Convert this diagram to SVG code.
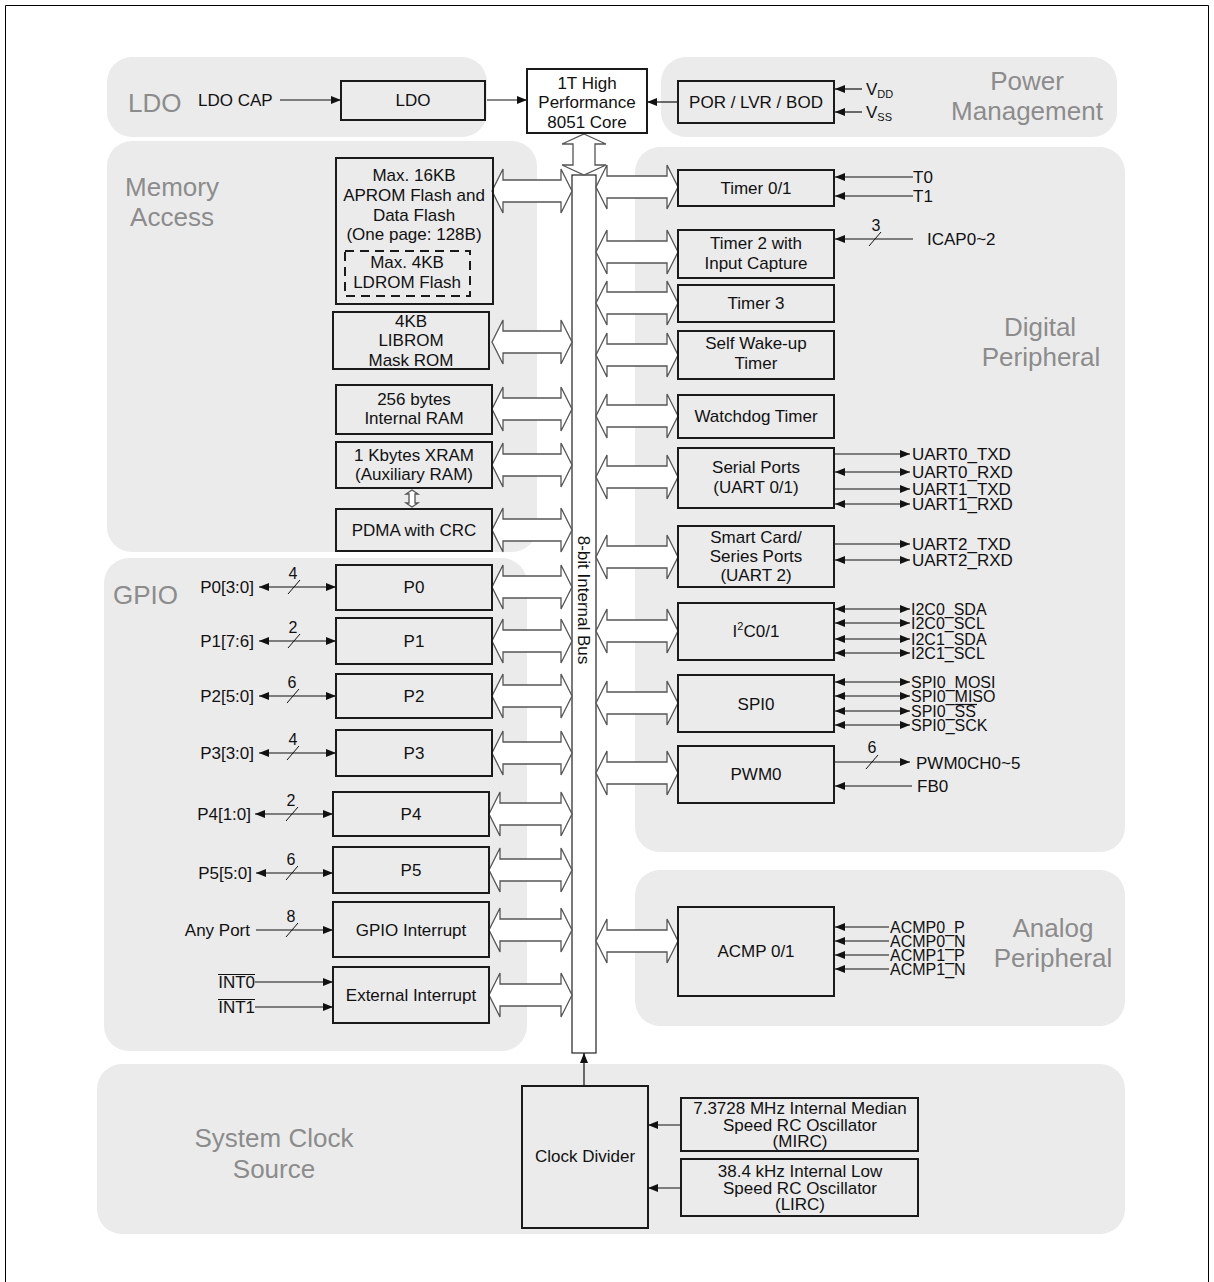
<svg xmlns="http://www.w3.org/2000/svg" xmlns:xlink="http://www.w3.org/1999/xlink" width="1214" height="1282" viewBox="0 0 1214 1282">
<style>
.panel{fill:#ebebeb}
.gl{font-family:"Liberation Sans",Arial,sans-serif;font-size:26px;fill:#8c8c8c}
.box{fill:none;stroke:#1a1a1a;stroke-width:2}
.t{font-family:"Liberation Sans",Arial,sans-serif;font-size:17px;fill:#111;text-anchor:middle}
.s{font-family:"Liberation Sans",Arial,sans-serif;font-size:17px;fill:#111}
.sd{font-family:"Liberation Sans",Arial,sans-serif;font-size:16px;fill:#111}
.e{font-family:"Liberation Sans",Arial,sans-serif;font-size:17px;fill:#111;text-anchor:end}
.n{font-family:"Liberation Sans",Arial,sans-serif;font-size:16px;fill:#111;text-anchor:middle}
.c{font-family:"Liberation Sans",Arial,sans-serif;font-size:17px;fill:#111;text-anchor:middle}
.ba{fill:#fff;stroke:#555;stroke-width:1.3}
.sig{stroke:#111;stroke-width:1.2;fill:none}
.r{marker-end:url(#ah)}
.d{marker-start:url(#ah);marker-end:url(#ah)}
.sl{stroke:#111;stroke-width:1}
</style>
<defs>
<marker id="ah" markerUnits="userSpaceOnUse" markerWidth="10" markerHeight="8" refX="10" refY="4" orient="auto-start-reverse"><path d="M0,0 L10,4 L0,8 Z" fill="#111"/></marker>
<path id="aL" d="M492,0 L503,-22 L503,-11 L561,-11 L561,-22 L572,0 L561,22 L561,11 L503,11 L503,22 Z"/>
<path id="aL2" d="M489,0 L500,-22 L500,-11 L561,-11 L561,-22 L572,0 L561,22 L561,11 L500,11 L500,22 Z"/>
<path id="aR" d="M596,0 L607,-22 L607,-11 L667,-11 L667,-22 L678,0 L667,22 L667,11 L607,11 L607,22 Z"/>
</defs>
<rect width="1214" height="1282" fill="#fff"/>
<path d="M5.5,1282 V5.5 H1208.5 V1282" fill="none" stroke="#000" stroke-width="1"/>

<g id="panels">
<rect class="panel" x="107" y="57" width="380" height="80" rx="25"/>
<rect class="panel" x="661" y="57" width="456" height="80" rx="25"/>
<rect class="panel" x="107" y="141" width="430" height="411" rx="25"/>
<rect class="panel" x="635" y="147" width="490" height="705" rx="25"/>
<rect class="panel" x="104" y="558" width="423" height="493" rx="25"/>
<rect class="panel" x="635" y="870" width="490" height="156" rx="25"/>
<rect class="panel" x="97" y="1064" width="1028" height="170" rx="25"/>
<text class="gl" x="128" y="112">LDO</text>
<text class="gl" x="1027" y="90" text-anchor="middle">Power</text>
<text class="gl" x="1027" y="120" text-anchor="middle">Management</text>
<text class="gl" x="172" y="196" text-anchor="middle">Memory</text>
<text class="gl" x="172" y="226" text-anchor="middle">Access</text>
<text class="gl" x="113" y="604">GPIO</text>
<text class="gl" x="1040" y="336" text-anchor="middle">Digital</text>
<text class="gl" x="1041" y="366" text-anchor="middle">Peripheral</text>
<text class="gl" x="1053" y="937" text-anchor="middle">Analog</text>
<text class="gl" x="1053" y="967" text-anchor="middle">Peripheral</text>
<text class="gl" x="274" y="1147" text-anchor="middle">System Clock</text>
<text class="gl" x="274" y="1178" text-anchor="middle">Source</text>
</g>

<g id="bus">
<rect x="572" y="175" width="24" height="878" fill="#fff" stroke="#333" stroke-width="1.3"/>
<text class="t" transform="translate(584,600) rotate(90)" x="0" y="6">8-bit Internal Bus</text>
</g>

<g id="connectors">
<path class="ba" d="M584,134 L606,144 L595,144 L595,165 L606,165 L584,175 L562,165 L573,165 L573,144 L562,144 Z"/>
<path class="ba" d="M412,490 L418,494 L415,494 L415,503 L418,503 L412,507 L406,503 L409,503 L409,494 L406,494 Z"/>
<use href="#aL" class="ba" y="191"/>
<use href="#aL" class="ba" y="342"/>
<use href="#aL" class="ba" y="409"/>
<use href="#aL" class="ba" y="465"/>
<use href="#aL" class="ba" y="530"/>
<use href="#aL" class="ba" y="587"/>
<use href="#aL" class="ba" y="641"/>
<use href="#aL" class="ba" y="696"/>
<use href="#aL" class="ba" y="753"/>
<use href="#aL2" class="ba" y="814"/>
<use href="#aL2" class="ba" y="870"/>
<use href="#aL2" class="ba" y="930"/>
<use href="#aL2" class="ba" y="995"/>
<use href="#aR" class="ba" y="187"/>
<use href="#aR" class="ba" y="252"/>
<use href="#aR" class="ba" y="303"/>
<use href="#aR" class="ba" y="355"/>
<use href="#aR" class="ba" y="416"/>
<use href="#aR" class="ba" y="477"/>
<use href="#aR" class="ba" y="557"/>
<use href="#aR" class="ba" y="631"/>
<use href="#aR" class="ba" y="703"/>
<use href="#aR" class="ba" y="773"/>
<use href="#aR" class="ba" y="941"/>

<line class="sig r" x1="280" y1="100" x2="341" y2="100"/>
<line class="sig r" x1="487" y1="100" x2="527" y2="100"/>
<line class="sig r" x1="678" y1="102" x2="647" y2="102"/>
<line class="sig r" x1="862" y1="89" x2="835" y2="89"/>
<line class="sig r" x1="862" y1="112" x2="835" y2="112"/>

<line class="sig r" x1="913" y1="177" x2="835" y2="177"/>
<line class="sig r" x1="913" y1="196" x2="835" y2="196"/>
<line class="sig r" x1="913" y1="239" x2="835" y2="239"/>
<line class="sl" x1="869" y1="246" x2="881" y2="232"/>

<line class="sig r" x1="835" y1="454" x2="910" y2="454"/>
<line class="sig d" x1="835" y1="472" x2="910" y2="472"/>
<line class="sig r" x1="835" y1="489" x2="910" y2="489"/>
<line class="sig d" x1="835" y1="504" x2="910" y2="504"/>
<line class="sig r" x1="835" y1="544" x2="910" y2="544"/>
<line class="sig d" x1="835" y1="560" x2="910" y2="560"/>
<line class="sig d" x1="835" y1="609" x2="910" y2="609"/>
<line class="sig d" x1="835" y1="623" x2="910" y2="623"/>
<line class="sig d" x1="835" y1="639" x2="910" y2="639"/>
<line class="sig d" x1="835" y1="653" x2="910" y2="653"/>
<line class="sig d" x1="835" y1="682" x2="910" y2="682"/>
<line class="sig d" x1="835" y1="696" x2="910" y2="696"/>
<line class="sig d" x1="835" y1="711" x2="910" y2="711"/>
<line class="sig d" x1="835" y1="725" x2="910" y2="725"/>
<line class="sig r" x1="835" y1="762" x2="910" y2="762"/>
<line class="sl" x1="866" y1="769" x2="878" y2="755"/>
<line class="sig r" x1="912" y1="786" x2="835" y2="786"/>
<line class="sig r" x1="889" y1="927" x2="835" y2="927"/>
<line class="sig r" x1="889" y1="941" x2="835" y2="941"/>
<line class="sig r" x1="889" y1="955" x2="835" y2="955"/>
<line class="sig r" x1="889" y1="969" x2="835" y2="969"/>

<line class="sig d" x1="259" y1="587" x2="336" y2="587"/>
<line class="sl" x1="288" y1="594" x2="300" y2="580"/>
<line class="sig d" x1="259" y1="641" x2="336" y2="641"/>
<line class="sl" x1="288" y1="648" x2="300" y2="634"/>
<line class="sig d" x1="259" y1="696" x2="336" y2="696"/>
<line class="sl" x1="287" y1="703" x2="299" y2="689"/>
<line class="sig d" x1="259" y1="753" x2="336" y2="753"/>
<line class="sl" x1="287" y1="760" x2="299" y2="746"/>
<line class="sig d" x1="255" y1="814" x2="333" y2="814"/>
<line class="sl" x1="286" y1="821" x2="298" y2="807"/>
<line class="sig d" x1="256" y1="873" x2="333" y2="873"/>
<line class="sl" x1="286" y1="880" x2="298" y2="866"/>
<line class="sig r" x1="256" y1="930" x2="333" y2="930"/>
<line class="sl" x1="286" y1="937" x2="298" y2="923"/>
<line class="sig r" x1="255" y1="982" x2="333" y2="982"/>
<line class="sig r" x1="255" y1="1007" x2="333" y2="1007"/>

<line class="sig r" x1="584" y1="1086" x2="584" y2="1053"/>
<line class="sig r" x1="681" y1="1125" x2="648" y2="1125"/>
<line class="sig r" x1="681" y1="1188" x2="648" y2="1188"/>
</g>

<g id="labels">
<text class="s" x="198" y="106">LDO CAP</text>
<text class="s" x="866" y="95">V<tspan font-size="11" dy="3">DD</tspan></text>
<text class="s" x="866" y="118">V<tspan font-size="11" dy="3">SS</tspan></text>
<text class="s" x="913" y="183">T0</text>
<text class="s" x="913" y="202">T1</text>
<text class="n" x="876" y="231">3</text>
<text class="s" x="927" y="245">ICAP0~2</text>
<text class="s" x="912" y="460">UART0_TXD</text>
<text class="s" x="912" y="478">UART0_RXD</text>
<text class="s" x="912" y="495">UART1_TXD</text>
<text class="s" x="912" y="510">UART1_RXD</text>
<text class="s" x="912" y="550">UART2_TXD</text>
<text class="s" x="912" y="566">UART2_RXD</text>
<text class="sd" x="911" y="615">I2C0_SDA</text>
<text class="sd" x="911" y="629">I2C0_SCL</text>
<text class="sd" x="911" y="645">I2C1_SDA</text>
<text class="sd" x="911" y="659">I2C1_SCL</text>
<text class="sd" x="911" y="688">SPI0_MOSI</text>
<text class="sd" x="911" y="702">SPI0_MISO</text>
<text class="sd" x="911" y="717">SPI0_SS</text>
<line x1="955" y1="704.5" x2="977" y2="704.5" stroke="#111" stroke-width="1.2"/>
<text class="sd" x="911" y="731">SPI0_SCK</text>
<text class="n" x="872" y="753">6</text>
<text class="s" x="916" y="769">PWM0CH0~5</text>
<text class="s" x="917" y="792">FB0</text>
<text class="sd" x="890" y="933">ACMP0_P</text>
<text class="sd" x="890" y="947">ACMP0_N</text>
<text class="sd" x="890" y="961">ACMP1_P</text>
<text class="sd" x="890" y="975">ACMP1_N</text>
<text class="e" x="254" y="593">P0[3:0]</text>
<text class="n" x="293" y="579">4</text>
<text class="e" x="254" y="647">P1[7:6]</text>
<text class="n" x="293" y="633">2</text>
<text class="e" x="254" y="702">P2[5:0]</text>
<text class="n" x="292" y="688">6</text>
<text class="e" x="254" y="759">P3[3:0]</text>
<text class="n" x="293" y="745">4</text>
<text class="e" x="251" y="820">P4[1:0]</text>
<text class="n" x="291" y="806">2</text>
<text class="e" x="252" y="879">P5[5:0]</text>
<text class="n" x="291" y="865">6</text>
<text class="e" x="250" y="936">Any Port</text>
<text class="n" x="291" y="922">8</text>
<text class="e" x="255" y="988">INT0</text>
<line x1="218" y1="974.5" x2="255" y2="974.5" stroke="#111" stroke-width="1.2"/>
<text class="e" x="255" y="1013">INT1</text>
<line x1="218" y1="999.5" x2="255" y2="999.5" stroke="#111" stroke-width="1.2"/>
</g>

<g id="core"><rect x="527" y="69" width="120" height="64" fill="#fff" stroke="#1a1a1a" stroke-width="2"/>
<text class="t" x="587" y="89">1T High</text><text class="t" x="587" y="108">Performance</text><text class="t" x="587" y="128">8051 Core</text></g>
<g id="ldo"><rect class="box" x="341" y="81" width="144" height="39"/><text class="t" x="413" y="106">LDO</text></g>
<g id="por"><rect class="box" x="678" y="81" width="156" height="42"/><text class="t" x="756" y="108">POR / LVR / BOD</text></g>

<g id="aprom"><rect class="box" x="336" y="158" width="157" height="146"/>
<text class="t" x="414" y="181">Max. 16KB</text><text class="t" x="414" y="201">APROM Flash and</text><text class="t" x="414" y="221">Data Flash</text><text class="t" x="414" y="240">(One page: 128B)</text></g>
<g id="ldrom"><rect x="345" y="251" width="125" height="45" fill="none" stroke="#1a1a1a" stroke-width="2" stroke-dasharray="9,6"/>
<text class="t" x="407" y="268">Max. 4KB</text><text class="t" x="407" y="288">LDROM Flash</text></g>
<g id="librom"><rect class="box" x="333" y="312" width="156" height="57"/>
<text class="t" x="411" y="327">4KB</text><text class="t" x="411" y="346">LIBROM</text><text class="t" x="411" y="366">Mask ROM</text></g>
<g id="iram"><rect class="box" x="336" y="385" width="156" height="49"/>
<text class="t" x="414" y="405">256 bytes</text><text class="t" x="414" y="424">Internal RAM</text></g>
<g id="xram"><rect class="box" x="336" y="442" width="156" height="46"/>
<text class="t" x="414" y="461">1 Kbytes XRAM</text><text class="t" x="414" y="480">(Auxiliary RAM)</text></g>
<g id="pdma"><rect class="box" x="336" y="509" width="156" height="42"/><text class="t" x="414" y="536">PDMA with CRC</text></g>

<g id="p0"><rect class="box" x="336" y="565" width="156" height="45"/><text class="t" x="414" y="593">P0</text></g>
<g id="p1"><rect class="box" x="336" y="618" width="156" height="46"/><text class="t" x="414" y="647">P1</text></g>
<g id="p2"><rect class="box" x="336" y="674" width="156" height="44"/><text class="t" x="414" y="702">P2</text></g>
<g id="p3"><rect class="box" x="336" y="730" width="156" height="46"/><text class="t" x="414" y="759">P3</text></g>
<g id="p4"><rect class="box" x="333" y="792" width="156" height="44"/><text class="t" x="411" y="820">P4</text></g>
<g id="p5"><rect class="box" x="333" y="847" width="156" height="46"/><text class="t" x="411" y="876">P5</text></g>
<g id="gpioint"><rect class="box" x="333" y="902" width="156" height="55"/><text class="t" x="411" y="936">GPIO Interrupt</text></g>
<g id="extint"><rect class="box" x="333" y="967" width="156" height="56"/><text class="t" x="411" y="1001">External Interrupt</text></g>

<g id="timer01"><rect class="box" x="678" y="170" width="156" height="36"/><text class="t" x="756" y="194">Timer 0/1</text></g>
<g id="timer2"><rect class="box" x="678" y="230" width="156" height="48"/><text class="t" x="756" y="249">Timer 2 with</text><text class="t" x="756" y="269">Input Capture</text></g>
<g id="timer3"><rect class="box" x="678" y="285" width="156" height="37"/><text class="t" x="756" y="309">Timer 3</text></g>
<g id="wkt"><rect class="box" x="678" y="331" width="156" height="48"/><text class="t" x="756" y="349">Self Wake-up</text><text class="t" x="756" y="369">Timer</text></g>
<g id="wdt"><rect class="box" x="678" y="395" width="156" height="43"/><text class="t" x="756" y="422">Watchdog Timer</text></g>
<g id="uart01"><rect class="box" x="678" y="448" width="156" height="60"/><text class="t" x="756" y="473">Serial Ports</text><text class="t" x="756" y="493">(UART 0/1)</text></g>
<g id="uart2"><rect class="box" x="678" y="526" width="156" height="61"/><text class="t" x="756" y="543">Smart Card/</text><text class="t" x="756" y="562">Series Ports</text><text class="t" x="756" y="581">(UART 2)</text></g>
<g id="i2c"><rect class="box" x="678" y="603" width="156" height="57"/><text class="t" x="756" y="637">I<tspan font-size="11" dy="-7">2</tspan><tspan dy="7">C0/1</tspan></text></g>
<g id="spi"><rect class="box" x="678" y="675" width="156" height="57"/><text class="t" x="756" y="710">SPI0</text></g>
<g id="pwm"><rect class="box" x="678" y="746" width="156" height="57"/><text class="t" x="756" y="780">PWM0</text></g>
<g id="acmp"><rect class="box" x="678" y="907" width="156" height="89"/><text class="t" x="756" y="957">ACMP 0/1</text></g>

<g id="clkdiv"><rect class="box" x="522" y="1086" width="126" height="142"/><text class="c" x="585" y="1162">Clock Divider</text></g>
<g id="mirc"><rect class="box" x="681" y="1098" width="237" height="53"/>
<text class="c" x="800" y="1114">7.3728 MHz Internal Median</text><text class="c" x="800" y="1131">Speed RC Oscillator</text><text class="c" x="800" y="1147">(MIRC)</text></g>
<g id="lirc"><rect class="box" x="681" y="1159" width="237" height="57"/>
<text class="c" x="800" y="1177">38.4 kHz Internal Low</text><text class="c" x="800" y="1194">Speed RC Oscillator</text><text class="c" x="800" y="1210">(LIRC)</text></g>
</svg>
